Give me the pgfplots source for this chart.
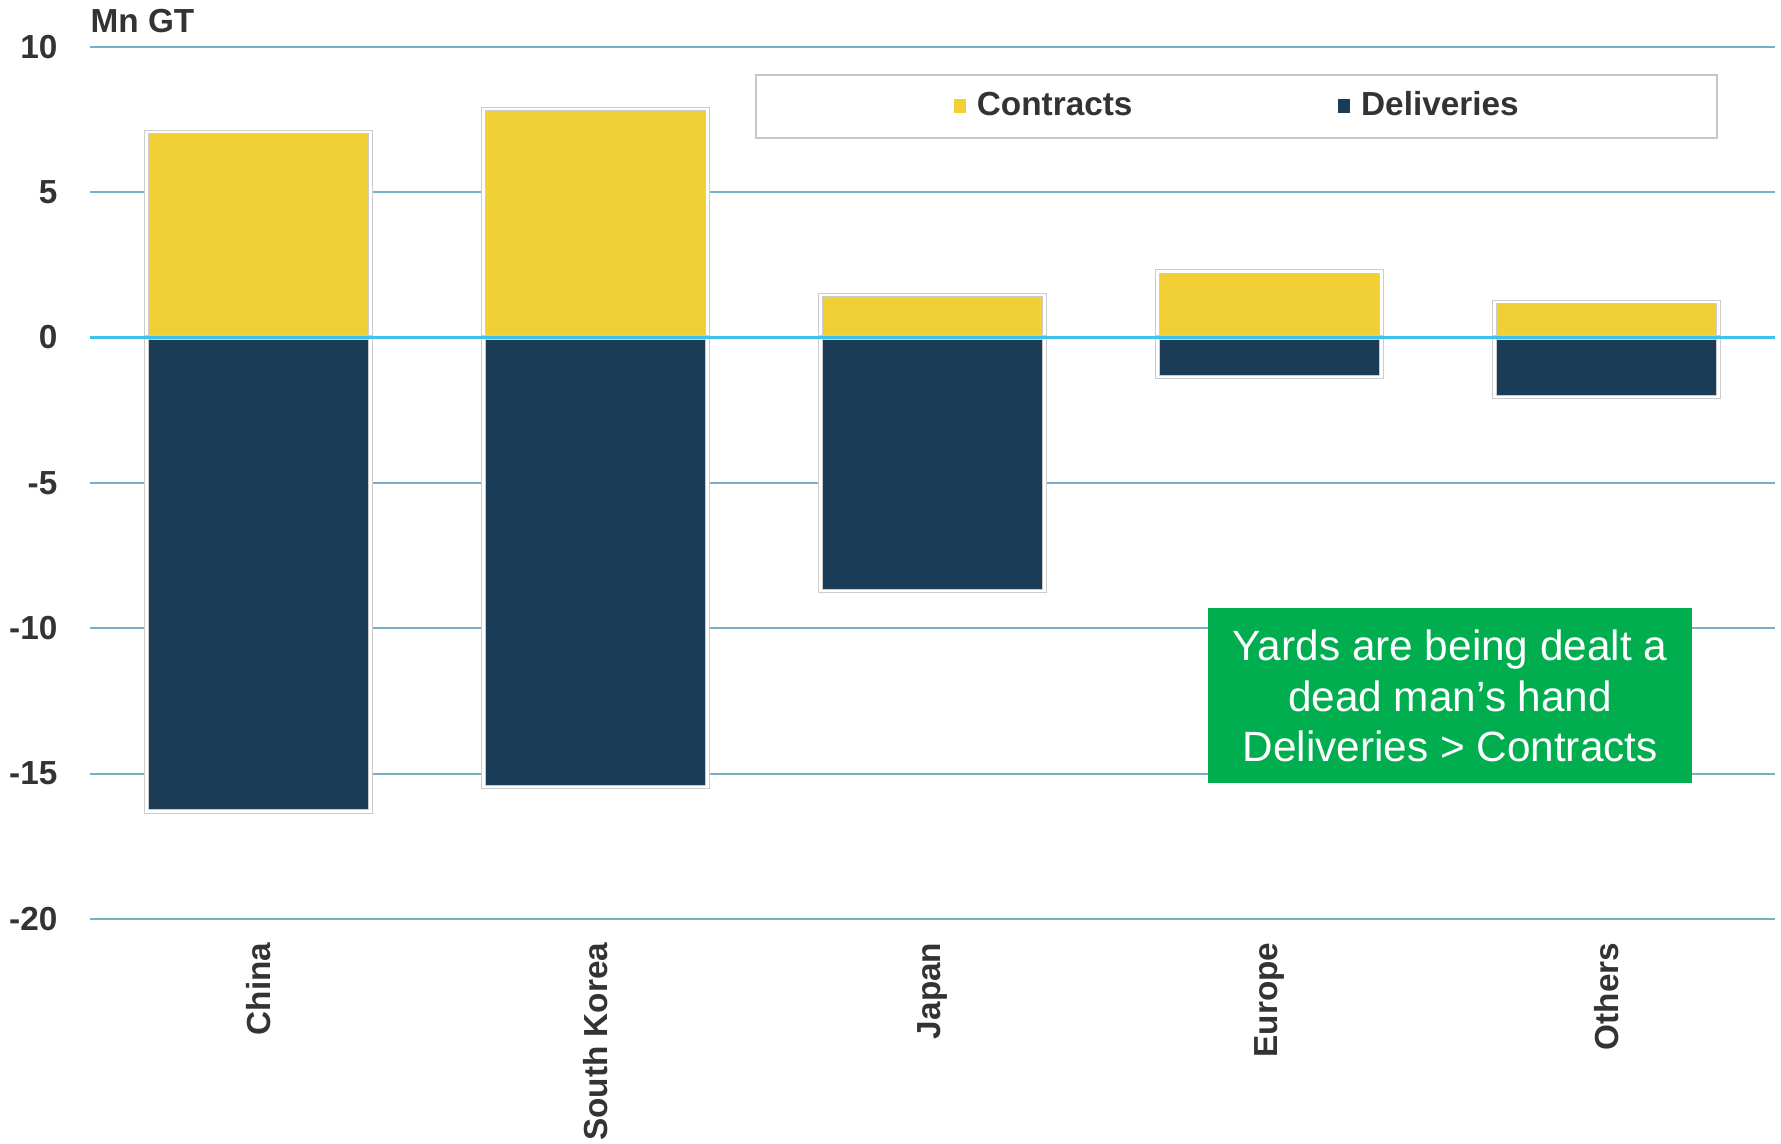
\documentclass[border=0pt]{standalone}
\usepackage{pgfplots}
\pgfplotsset{compat=1.18}
\usepackage{fontspec}
\setmainfont{Liberation Sans}
\definecolor{cyell}{RGB}{240,208,53}
\definecolor{cnavy}{RGB}{27,60,86}
\definecolor{cgrid}{RGB}{120,175,198}
\definecolor{czero}{RGB}{60,195,235}
\definecolor{ctext}{RGB}{51,51,51}
\definecolor{cgreen}{RGB}{0,174,80}
\begin{document}
\begin{tikzpicture}
\useasboundingbox (-27pt,-67.2pt) rectangle (507.3pt,275.7pt);
\begin{axis}[
  at={(0,0)}, anchor=south west, scale only axis,
  width=505.5pt, height=261.7pt,
  xmin=-0.5, xmax=4.5, ymin=-20, ymax=10,
  clip=false,
  axis line style={draw=none},
  major tick length=0pt,
  tick style={draw=none},
  ytick={-20,-15,-10,-5,0,5,10},
  yticklabels={-20,-15,-10,-5,0,5,10},
  ymajorgrids, grid style={cgrid, line width=0.6pt},
  xtick={0,1,2,3,4},
  xticklabels={China,South Korea,Japan,Europe,Others},
  xticklabel style={rotate=90, anchor=east, inner sep=0pt, font=\bfseries, text=ctext},
  xticklabel shift=6.9pt,
  yticklabel style={anchor=east, inner sep=0pt, font=\bfseries, text=ctext},
  yticklabel shift=9.6pt,
  legend columns=2,
  legend style={at={(0.3947,0.9688)}, anchor=north west, draw=gray!45, line width=0.5pt, fill=white,
    font=\bfseries, text=ctext, inner xsep=59.5pt, inner ysep=5.1pt,
    nodes={inner sep=0pt},
    /tikz/every odd column/.append style={column sep=3.2pt},
    /tikz/every even column/.append style={column sep=61.8pt}},
  legend image code/.code={\fill[#1, draw=none] (0pt,-2pt) rectangle (3.6pt,2.1pt);},
]
\addplot[ybar, bar width=0.664, bar shift=0pt, fill=cyell, draw=gray!40, double=white, double distance=0.7pt, line width=0.3pt]
  coordinates {(0,7.07) (1,7.86) (2,1.46) (3,2.27) (4,1.22)};
\addplot[ybar, bar width=0.664, bar shift=0pt, fill=cnavy, draw=gray!40, double=white, double distance=0.7pt, line width=0.3pt]
  coordinates {(0,-16.3) (1,-15.45) (2,-8.73) (3,-1.35) (4,-2.05)};
\legend{Contracts, Deliveries}
\draw[czero, line width=0.8pt] (axis cs:-0.5,0) -- (axis cs:4.5,0);
\node[anchor=base west, inner sep=0pt, font=\bfseries, text=ctext, yshift=4.1pt] at (rel axis cs:0,1) {Mn GT};
\node[fill=cgreen, text=white, minimum width=145pt, minimum height=52.5pt, align=center,
  font=\fontsize{12.7}{15.2}\selectfont, inner sep=0pt] at (axis cs:3.536,-12.33)
  {Yards are being dealt a\\dead man’s hand\\Deliveries > Contracts};
\end{axis}
\end{tikzpicture}
\end{document}
